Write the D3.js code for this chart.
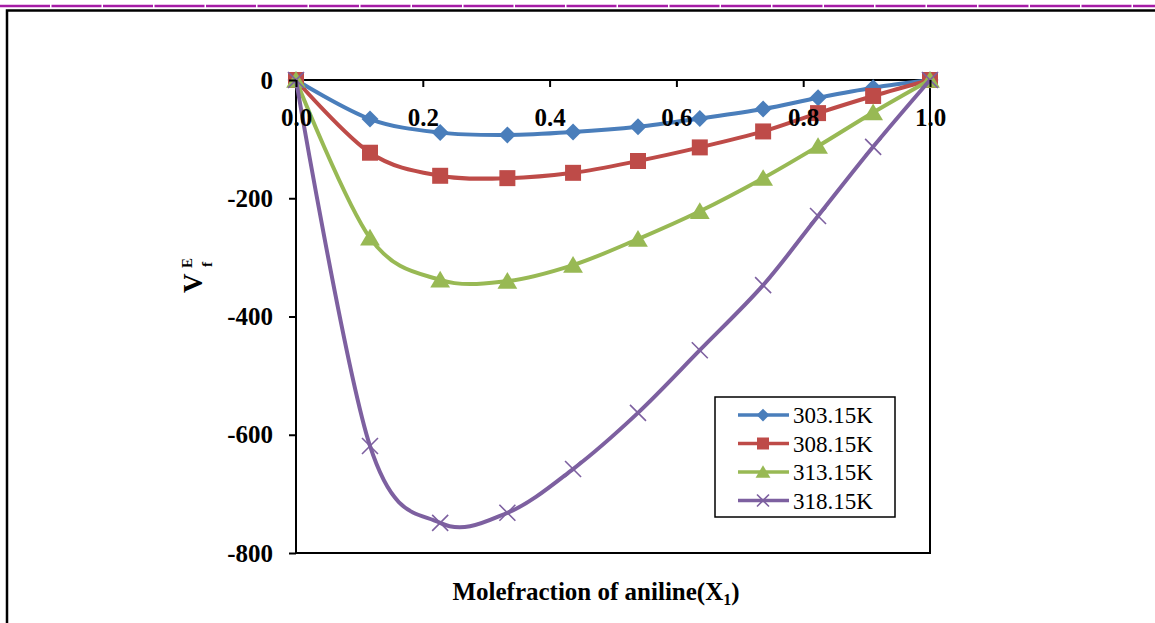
<!DOCTYPE html>
<html>
<head>
<meta charset="utf-8">
<script src="https://cdn.jsdelivr.net/npm/d3@7"></script>
<style>
  body { margin: 0; background: #fff; }
  svg { display: block; font-family: "Liberation Serif", "Times New Roman", serif; }
  .axis path, .axis line { stroke: #000; stroke-width: 2; }
  .axis text { font-family: "Liberation Serif", "Times New Roman", serif; font-size: 25px; font-weight: bold; fill: #000; }
</style>
</head>
<body>
<div id="chart"></div>
<script>
// mole fraction of aniline
var moleFraction = [0, 0.1167, 0.2274, 0.3334, 0.4370, 0.5394, 0.6369, 0.7368, 0.8234, 0.9103, 1.0];

var v30315 = [0, -66, -89, -93, -88, -79, -65, -49, -30, -13, 0];
var v30815 = [0, -123, -162, -166, -157, -137, -114, -87, -56, -27, 0];
var v31315 = [0, -267, -338, -340, -313, -269, -222, -166, -112, -55, 0];
var v31815 = [0, -619, -749, -732, -658, -563, -457, -347, -230, -113, 0];

var seriesNames = ["303.15K", "308.15K", "313.15K", "318.15K"];
var xTicks = [0, 0.2, 0.4, 0.6, 0.8, 1.0];
var yTicks = [0, -200, -400, -600, -800];

var width = 1155, height = 623;
var plot = { left: 296, right: 930, top: 80, bottom: 553 };

var series = [
  { name: seriesNames[0], values: v30315, color: "#4A7EBB", marker: "diamond" },
  { name: seriesNames[1], values: v30815, color: "#BE4B48", marker: "square" },
  { name: seriesNames[2], values: v31315, color: "#98B954", marker: "triangle" },
  { name: seriesNames[3], values: v31815, color: "#7D60A0", marker: "cross" }
];

var svg = d3.select("#chart").append("svg")
    .attr("width", width)
    .attr("height", height);

// page decorations (magenta rule + frame)
svg.append("line")
    .attr("x1", 0).attr("x2", width).attr("y1", 6).attr("y2", 6)
    .attr("stroke", "#A61CA6").attr("stroke-width", 2.5)
    .attr("stroke-dasharray", "50,1.5");
svg.append("path")
    .attr("d", `M7,${height + 5} V10.5 H${width + 5}`)
    .attr("fill", "none").attr("stroke", "#000").attr("stroke-width", 2.5);

var x = d3.scaleLinear().domain([0, 1]).range([plot.left, plot.right]);
var y = d3.scaleLinear().domain([-800, 0]).range([plot.bottom, plot.top]);

// plot border
svg.append("rect")
    .attr("x", plot.left).attr("y", plot.top)
    .attr("width", plot.right - plot.left).attr("height", plot.bottom - plot.top)
    .attr("fill", "none").attr("stroke", "#000").attr("stroke-width", 2);

function markerPath(type, s) {
  if (type === "diamond") return `M0,${-s}L${s},0L0,${s}L${-s},0Z`;
  if (type === "square") return `M${-s},${-s}H${s}V${s}H${-s}Z`;
  if (type === "triangle") return `M0,${-s}L${s * 1.1},${s * 0.85}H${-s * 1.1}Z`;
  return `M${-s},${-s}L${s},${s}M${-s},${s}L${s},${-s}`;
}
function drawMarker(sel, d, size) {
  sel.append("path")
      .attr("d", markerPath(d.marker, size))
      .attr("fill", d.marker === "cross" ? "none" : d.color)
      .attr("stroke", d.color)
      .attr("stroke-width", d.marker === "cross" ? 1.6 : 0);
}

var line = d3.line()
    .x(p => x(p[0]))
    .y(p => y(p[1]))
    .curve(d3.curveCardinal.tension(0));

var sizes = { diamond: 8.5, square: 8, triangle: 9, cross: 8 };

series.forEach(function(s) {
  var pts = moleFraction.map((m, i) => [m, s.values[i]]);
  var g = svg.append("g");
  g.append("path")
      .datum(pts)
      .attr("d", line)
      .attr("fill", "none")
      .attr("stroke", s.color)
      .attr("stroke-width", 4);
  pts.forEach(function(p) {
    var mg = g.append("g").attr("transform", `translate(${x(p[0])},${y(p[1])})`);
    drawMarker(mg, s, sizes[s.marker]);
  });
});

// axes on top of the series, like the original
var yAxis = d3.axisLeft(y).tickValues(yTicks).tickSize(7).tickPadding(16)
    .tickFormat(d => String(d));
svg.append("g")
    .attr("class", "axis")
    .attr("transform", `translate(${plot.left},0)`)
    .call(yAxis)
    .call(g => g.attr("font-family", null).attr("font-size", null))
    .call(g => g.select(".domain").remove());

var xAxis = d3.axisBottom(x).tickValues(xTicks).tickSize(7).tickPadding(21)
    .tickFormat(d3.format(".1f"));
svg.append("g")
    .attr("class", "axis")
    .attr("transform", `translate(0,${y(0)})`)
    .call(xAxis)
    .call(g => g.attr("font-family", null).attr("font-size", null))
    .call(g => g.select(".domain").remove());

// axis titles
var xTitle = svg.append("text")
    .attr("x", 596).attr("y", 600)
    .attr("text-anchor", "middle")
    .style("font-size", "25px").style("font-weight", "bold");
xTitle.append("tspan").text("Molefraction of aniline(X");
xTitle.append("tspan").attr("dy", 5).style("font-size", "16px").text("1");
xTitle.append("tspan").attr("dy", -5).text(")");

var yTitle = svg.append("g").attr("transform", "translate(202,281) rotate(-90)")
    .style("font-weight", "bold");
yTitle.append("text").attr("x", -12).attr("y", 0).style("font-size", "27px").text("V");
yTitle.append("text").attr("x", 14).attr("y", 10).style("font-size", "15px").text("f");
yTitle.append("text").attr("x", 13).attr("y", -10).style("font-size", "15px").text("E");

// legend
var legend = svg.append("g").attr("transform", "translate(715,397)");
legend.append("rect")
    .attr("width", 180).attr("height", 120)
    .attr("fill", "#fff").attr("stroke", "#000").attr("stroke-width", 1.5);
series.forEach(function(s, i) {
  var row = legend.append("g").attr("transform", `translate(0,${18 + i * 28.5})`);
  row.append("line")
      .attr("x1", 23).attr("x2", 74)
      .attr("stroke", s.color).attr("stroke-width", 3.5);
  var mg = row.append("g").attr("transform", "translate(48,0)");
  drawMarker(mg, s, sizes[s.marker] * 0.75);
  row.append("text")
      .attr("x", 78).attr("y", 8)
      .style("font-size", "23px")
      .text(s.name);
});
</script>
</body>
</html>
